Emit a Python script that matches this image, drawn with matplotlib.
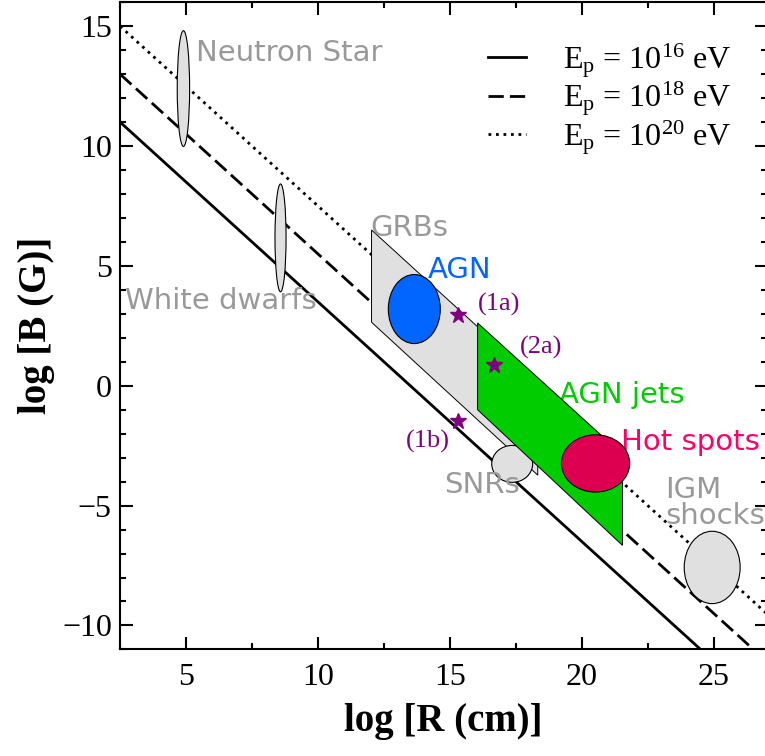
import numpy as np
import matplotlib
matplotlib.use("Agg")
import matplotlib.pyplot as plt
from matplotlib.patches import Ellipse, Polygon

plt.rcParams['font.family'] = ['Liberation Serif', 'DejaVu Serif']
plt.rcParams['mathtext.fontset'] = 'custom'
plt.rcParams['mathtext.rm'] = 'Liberation Serif'
plt.rcParams['mathtext.it'] = 'Liberation Serif:italic'
plt.rcParams['mathtext.bf'] = 'Liberation Serif:bold'

# Hillas lines: log B = offset - log R
line_offsets = [13.5, 15.5, 17.5]
line_labels = [r'E$_\mathrm{p}$ = 10$^{16}$ eV',
               r'E$_\mathrm{p}$ = 10$^{18}$ eV',
               r'E$_\mathrm{p}$ = 10$^{20}$ eV']
line_styles = ['-', (0, (5.5, 2.2)), (0, (1, 1.7))]

# sources drawn as ellipses: name, centre x, centre y, width, height
ell_names = ['Neutron Star', 'White dwarfs', 'AGN', 'Hot spots', 'SNRs', 'IGM shocks']
ell_x = [4.9, 8.58, 13.65, 20.52, 17.36, 24.94]
ell_y = [12.4, 6.17, 3.2, -3.24, -3.26, -7.58]
ell_w = [0.47, 0.42, 1.97, 2.59, 1.55, 2.12]
ell_h = [4.83, 4.5, 2.88, 2.39, 1.54, 3.02]
ell_colors = ['#e0e0e0', '#e0e0e0', '#0066ff', '#dd0050', '#e0e0e0', '#e0e0e0']

# polygons
grb_x = [12.03, 12.03, 18.33, 18.33]
grb_y = [6.5, 2.65, -3.73, 0.17]
jets_x = [16.05, 16.05, 21.54, 21.54]
jets_y = [2.62, -1.0, -6.66, -2.87]

# stars
star_names = ['(1a)', '(2a)', '(1b)']
star_x = [15.31, 16.68, 15.32]
star_y = [2.94, 0.85, -1.49]

fig = plt.figure(figsize=(7.65, 7.56), dpi=100)
ax = fig.add_axes([0.157, 0.141, 0.845, 0.856])

xx = np.array([2.5, 27.0])
handles = []
for off, ls, lab in zip(line_offsets, line_styles, line_labels):
    h, = ax.plot(xx, off - xx, color='black', lw=2, linestyle=ls, label=lab, zorder=1)
    handles.append(h)

ax.add_patch(Polygon(np.column_stack([grb_x, grb_y]), closed=True,
                     facecolor='#e0e0e0', edgecolor='black', lw=0.7, zorder=2))
for i in range(len(ell_names)):
    z = 3 if ell_names[i] != 'Hot spots' else 5
    ax.add_patch(Ellipse((ell_x[i], ell_y[i]), ell_w[i], ell_h[i],
                         facecolor=ell_colors[i], edgecolor='black', lw=0.8, zorder=z))
ax.add_patch(Polygon(np.column_stack([jets_x, jets_y]), closed=True,
                     facecolor='#00cc00', edgecolor='black', lw=0.7, zorder=4))

ax.plot(star_x, star_y, linestyle='none', marker='*', markersize=12,
        color='#800080', zorder=6)

gray = '#999999'
sans = 'DejaVu Sans'
fs = 21
ax.text(5.38, 13.9, 'Neutron Star', color=gray, fontsize=fs, family=sans, va='center')
ax.text(2.7, 3.55, 'White dwarfs', color=gray, fontsize=fs, family=sans, va='center')
ax.text(12.0, 6.6, 'GRBs', color=gray, fontsize=fs, family=sans, va='center')
ax.text(14.15, 4.85, 'AGN', color='#0066ff', fontsize=fs, family=sans, va='center')
ax.text(19.14, -0.37, 'AGN jets', color='#00cc00', fontsize=fs, family=sans, va='center')
ax.text(21.5, -2.33, 'Hot spots', color='#ff0066', fontsize=fs, family=sans, va='center',
        clip_on=False)
ax.text(14.79, -4.13, 'SNRs', color=gray, fontsize=fs, family=sans, va='center')
ax.text(23.15, -4.88, 'IGM\nshocks', color=gray, fontsize=fs, family=sans, va='center',
        linespacing=0.9, clip_on=False)

star_lx = [16.05, 17.67, 13.33]
star_ly = [3.38, 1.58, -2.32]
for name, lx, ly in zip(star_names, star_lx, star_ly):
    ax.text(lx, ly, name, color='#800080', fontsize=19, va='center')

ax.set_xlim(2.5, 27)
ax.set_ylim(-11, 16)
ax.set_xticks([5, 10, 15, 20, 25])
ax.set_yticks([-10, -5, 0, 5, 10, 15])
ax.set_xticks(np.arange(2.5, 27, 2.5), minor=True)
ax.set_yticks(np.arange(-11, 17, 1), minor=True)
ax.tick_params(which='both', direction='in', top=True, right=True, width=1.5)
ax.tick_params(which='major', length=9, labelsize=23)
ax.tick_params(which='minor', length=4.5)
ax.tick_params(axis='x', pad=10)
ax.tick_params(axis='y', pad=6)
for s in ax.spines.values():
    s.set_linewidth(1.5)

ax.set_xlabel('log [R (cm)]', fontsize=28, fontweight='bold', labelpad=8)
ax.set_ylabel('log [B (G)]', fontsize=28, fontweight='bold', labelpad=5)

ax.legend(handles=handles, loc='upper left', bbox_to_anchor=(0.524, 0.985),
          frameon=False, fontsize=23, handlelength=1.2, handletextpad=1.15,
          labelspacing=0.0)

fig.savefig('out.png', dpi=100)
